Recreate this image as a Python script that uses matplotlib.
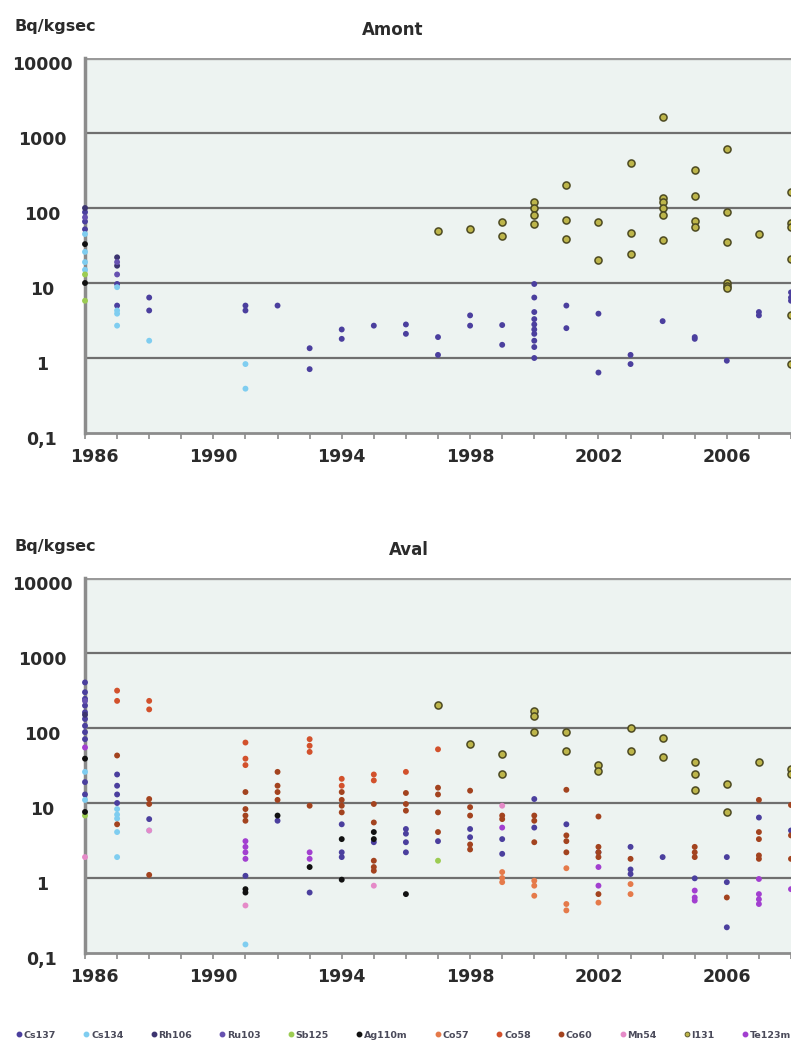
import matplotlib
matplotlib.use("Agg")
import matplotlib.pyplot as plt
import matplotlib.transforms as mtransforms
from matplotlib.lines import Line2D

# ---------------- data ----------------
SERIES = ["Cs137", "Cs134", "Rh106", "Ru103", "Sb125", "Ag110m",
          "Co57", "Co58", "Co60", "Mn54", "I131", "Te123m"]
COLORS = ["#4b3f9e", "#7fcdf0", "#3c3470", "#6651b0", "#9ccc52", "#111111",
          "#e57a4a", "#d2512c", "#a3431f", "#e58ac8", "#c4bb48", "#a23fd0"]

Y_TICKS = [0.1, 1, 10, 100, 1000, 10000]
Y_TICK_LABELS = ["0,1", "1", "10", "100", "1000", "10000"]
X_TICKS = [1986, 1990, 1994, 1998, 2002, 2006]

# ---- Amont ----
amont_cs137_x = [1986, 1986, 1986, 1987, 1987, 1988, 1988, 1991, 1991, 1992, 1993, 1993,
                 1994, 1994, 1995, 1996, 1996, 1997, 1997, 1998, 1998, 1999, 1999,
                 2000, 2000, 2000, 2000, 2000, 2000, 2000, 2000, 2000, 2000,
                 2001, 2001, 2002, 2002, 2003, 2003, 2004, 2005, 2005, 2006, 2007, 2007,
                 2008, 2008, 2008]
amont_cs137_y = [88, 66, 52, 5.0, 9.7, 6.4, 4.3, 5.0, 4.3, 5.0, 1.35, 0.71,
                 2.4, 1.8, 2.7, 2.8, 2.1, 1.9, 1.1, 3.7, 2.7, 2.75, 1.5,
                 9.7, 6.4, 4.1, 3.3, 2.8, 2.4, 2.1, 1.7, 1.4, 1.0,
                 5.0, 2.5, 3.9, 0.64, 1.1, 0.83, 3.1, 1.9, 1.8, 0.92, 4.1, 3.7,
                 7.5, 6.4, 5.8]
amont_cs134_x = [1986, 1986, 1986, 1986, 1987, 1987, 1987, 1987, 1988, 1991, 1991]
amont_cs134_y = [45, 26, 19, 15, 8.8, 4.3, 3.9, 2.7, 1.7, 0.83, 0.39]
amont_rh106_x = [1986, 1987, 1987]
amont_rh106_y = [100, 22, 17]
amont_ru103_x = [1986, 1987, 1987]
amont_ru103_y = [75, 19, 13]
amont_sb125_x = [1986, 1986]
amont_sb125_y = [13, 5.8]
amont_ag110m_x = [1986, 1986]
amont_ag110m_y = [33, 10]
amont_i131_x = [1997, 1998, 1999, 1999, 2000, 2000, 2000, 2000, 2001, 2001, 2001,
                2002, 2002, 2003, 2003, 2003, 2004, 2004, 2004, 2004, 2004, 2004,
                2005, 2005, 2005, 2005, 2006, 2006, 2006, 2006, 2006, 2006, 2007,
                2008, 2008, 2008, 2008, 2008, 2008]
amont_i131_y = [50, 52, 66, 42, 120, 100, 80, 62, 200, 70, 39,
                66, 20, 400, 47, 24, 1650, 138, 120, 100, 80, 38,
                320, 146, 68, 55, 610, 88, 35, 10, 9, 8.5, 45,
                162, 64, 55, 21, 3.7, 0.83]

# ---- Aval ----
aval_cs137_x = [1986] * 11 + [1987] * 4 + [1988, 1991, 1992, 1993, 1994, 1994, 1994, 1995,
                1996, 1996, 1996, 1996, 1997, 1998, 1998, 1999, 1999, 2000, 2000, 2001,
                2002, 2003, 2003, 2003, 2004, 2005, 2006, 2006, 2006, 2007, 2008]
aval_cs137_y = [405, 300, 245, 199, 162, 132, 107, 88, 71, 19, 13,
                24, 17, 13, 10, 6.1, 1.07, 5.8, 0.64, 5.2, 2.2, 1.9, 3.0,
                4.5, 3.9, 3.0, 2.2, 3.1, 4.5, 3.5, 3.3, 2.1, 11.3, 4.7, 5.2,
                2.2, 2.6, 1.3, 1.13, 1.9, 0.99, 1.9, 0.88, 0.22, 6.4, 4.3]
aval_cs134_x = [1986, 1986, 1987, 1987, 1987, 1987, 1987, 1988, 1991]
aval_cs134_y = [26, 11, 8.3, 7.0, 6.2, 4.1, 1.9, 4.3, 0.13]
aval_rh106_x = [1986]
aval_rh106_y = [150]
aval_ru103_x = [1986]
aval_ru103_y = [230]
aval_sb125_x = [1986, 1997]
aval_sb125_y = [6.8, 1.7]
aval_ag110m_x = [1986, 1986, 1991, 1991, 1992, 1993, 1994, 1994, 1995, 1995, 1996]
aval_ag110m_y = [39, 7.6, 0.71, 0.64, 6.8, 1.4, 3.3, 0.95, 4.1, 3.3, 0.61]
aval_co57_x = [1999, 1999, 1999, 2000, 2000, 2000, 2001, 2001, 2001, 2002, 2003, 2003]
aval_co57_y = [1.2, 1.0, 0.88, 0.92, 0.79, 0.58, 1.35, 0.45, 0.37, 0.47, 0.83, 0.61]
aval_co58_x = [1987, 1987, 1988, 1988, 1991, 1991, 1991, 1993, 1993, 1993,
               1994, 1994, 1995, 1995, 1996, 1997]
aval_co58_y = [315, 230, 230, 177, 64, 39, 32, 71, 58, 48,
               21, 17, 24, 20, 26, 52]
aval_co60_x = [1987, 1987, 1988, 1988, 1988, 1991, 1991, 1991, 1991,
               1992, 1992, 1992, 1992, 1993, 1994, 1994, 1994, 1994,
               1995, 1995, 1995, 1995, 1995, 1996, 1996, 1996,
               1997, 1997, 1997, 1997, 1998, 1998, 1998, 1998, 1998,
               1999, 1999, 2000, 2000, 2000, 2001, 2001, 2001, 2001,
               2002, 2002, 2002, 2002, 2002, 2003, 2005, 2005, 2005, 2006,
               2007, 2007, 2007, 2007, 2007, 2008, 2008, 2008]
aval_co60_y = [43, 5.2, 11.3, 9.7, 1.1, 14, 8.3, 6.8, 5.8,
               26, 17, 14, 11, 9.2, 14, 11, 9.2, 7.5,
               9.7, 5.5, 1.7, 1.4, 1.25, 13.6, 9.7, 7.9,
               16, 13, 7.5, 4.1, 14.6, 8.8, 6.8, 2.8, 2.4,
               6.8, 6.1, 6.8, 5.8, 3.0, 15, 3.7, 3.1, 2.2,
               6.6, 2.6, 2.2, 1.9, 0.61, 1.8, 2.6, 2.2, 1.9, 0.55,
               11, 4.1, 3.3, 2.0, 1.8, 9.4, 3.7, 1.8]
aval_mn54_x = [1986, 1988, 1991, 1995, 1999]
aval_mn54_y = [1.9, 4.3, 0.43, 0.79, 9.2]
aval_te123m_x = [1986, 1991, 1991, 1991, 1991, 1993, 1993, 1999, 2002, 2002,
                 2005, 2005, 2005, 2007, 2007, 2007, 2007, 2008]
aval_te123m_y = [55, 3.1, 2.6, 2.2, 1.8, 2.2, 1.8, 4.7, 1.4, 0.79,
                 0.68, 0.55, 0.5, 0.97, 0.61, 0.52, 0.45, 0.71]
aval_i131_x = [1997, 1998, 1999, 1999, 2000, 2000, 2000, 2001, 2001, 2002, 2002,
               2003, 2003, 2004, 2004, 2005, 2005, 2005, 2006, 2006, 2007, 2008, 2008]
aval_i131_y = [204, 61, 45, 24, 170, 145, 88, 88, 50, 32, 27,
               100, 49, 73, 41, 35, 24, 15, 18, 7.5, 35, 28, 24]

AMONT = {
    "Cs137": (amont_cs137_x, amont_cs137_y), "Cs134": (amont_cs134_x, amont_cs134_y),
    "Rh106": (amont_rh106_x, amont_rh106_y), "Ru103": (amont_ru103_x, amont_ru103_y),
    "Sb125": (amont_sb125_x, amont_sb125_y), "Ag110m": (amont_ag110m_x, amont_ag110m_y),
    "I131": (amont_i131_x, amont_i131_y),
}
AVAL = {
    "Cs137": (aval_cs137_x, aval_cs137_y), "Cs134": (aval_cs134_x, aval_cs134_y),
    "Rh106": (aval_rh106_x, aval_rh106_y), "Ru103": (aval_ru103_x, aval_ru103_y),
    "Sb125": (aval_sb125_x, aval_sb125_y), "Ag110m": (aval_ag110m_x, aval_ag110m_y),
    "Co57": (aval_co57_x, aval_co57_y), "Co58": (aval_co58_x, aval_co58_y),
    "Co60": (aval_co60_x, aval_co60_y), "Mn54": (aval_mn54_x, aval_mn54_y),
    "Te123m": (aval_te123m_x, aval_te123m_y), "I131": (aval_i131_x, aval_i131_y),
}

# ---------------- figure ----------------
W, H = 791, 1052
fig = plt.figure(figsize=(W / 100, H / 100), dpi=100)
fig.patch.set_facecolor("white")

TXT = "#2b2b2b"
GRID = "#6f6f6f"
SPINE = "#8c8c8c"


def make_panel(top_px, data, title, title_x_px):
    left = 85 / W
    bottom = 1 - (top_px + 375) / H
    ax = fig.add_axes([left, bottom, 1 - left, 375 / H])
    ax.set_facecolor("#edf3f1")
    ax.set_yscale("log")
    ax.set_ylim(0.1, 10000)
    ax.set_xlim(1986, 2008)
    for v in Y_TICKS[1:]:
        ax.axhline(v, color=GRID if v < 10000 else "#9a9a9a",
                   lw=1.6 if v < 10000 else 2.4, zorder=1)
    for s in ["top", "right"]:
        ax.spines[s].set_visible(False)
    ax.spines["left"].set_color(SPINE)
    ax.spines["left"].set_linewidth(2.5)
    ax.spines["bottom"].set_color(SPINE)
    ax.spines["bottom"].set_linewidth(2.0)

    ax.set_yticks(Y_TICKS)
    ax.set_yticklabels(Y_TICK_LABELS)
    ax.yaxis.set_minor_locator(matplotlib.ticker.NullLocator())
    ax.tick_params(axis="y", length=0, pad=31, labelsize=12.5, labelcolor=TXT)
    off = mtransforms.ScaledTranslation(0, -5 / 100, fig.dpi_scale_trans)
    for lbl in ax.get_yticklabels():
        lbl.set_horizontalalignment("center")
        lbl.set_fontweight("bold")
        lbl.set_transform(lbl.get_transform() + off)

    ax.set_xticks(X_TICKS)
    ax.set_xticklabels([str(x) for x in X_TICKS])
    ax.set_xticks(list(range(1986, 2009)), minor=True)
    ax.tick_params(axis="x", which="both", length=4, width=1.2, color=SPINE,
                   direction="out", pad=7, labelsize=12.5, labelcolor=TXT)
    for lbl in ax.get_xticklabels():
        lbl.set_fontweight("bold")
    first = ax.get_xticklabels()[0]
    first.set_transform(first.get_transform() +
                        mtransforms.ScaledTranslation(9 / 100, 0, fig.dpi_scale_trans))

    for name, color in zip(SERIES, COLORS):
        if name not in data:
            continue
        xs, ys = data[name]
        if name == "I131":
            ax.scatter(xs, ys, s=26, facecolor="#bdb54a", edgecolor="#4d4a22",
                       linewidths=1.1, zorder=4, clip_on=False)
        else:
            ax.scatter(xs, ys, s=18, color=color, edgecolor="none", zorder=3,
                       clip_on=False)

    fig.text(15 / W, 1 - (top_px - 31) / H, "Bq/kgsec", fontsize=11.5,
             fontweight="bold", color=TXT, ha="left", va="center")
    fig.text(title_x_px / W, 1 - (top_px - 28) / H, title, fontsize=12,
             fontweight="bold", color=TXT, ha="center", va="center")
    return ax


make_panel(58, AMONT, "Amont", 393)
make_panel(578, AVAL, "Aval", 409)

handles = []
for name, color in zip(SERIES, COLORS):
    if name == "I131":
        h = Line2D([], [], marker="o", ls="", markersize=3.5, markerfacecolor="#bdb54a",
                   markeredgecolor="#4d4a22", markeredgewidth=0.6, label=name)
    else:
        h = Line2D([], [], marker="o", ls="", markersize=3.2, color=color, label=name)
    handles.append(h)
leg = fig.legend(handles=handles, loc="center", bbox_to_anchor=(0.51, 1 - 1035 / H),
                 ncol=12, frameon=False, fontsize=6.8, handletextpad=0.15,
                 columnspacing=2.85, handlelength=0.7, borderaxespad=0)
for t in leg.get_texts():
    t.set_color("#4a4a5a")
    t.set_fontweight("bold")

fig.savefig("out.png", dpi=100, facecolor="white")
